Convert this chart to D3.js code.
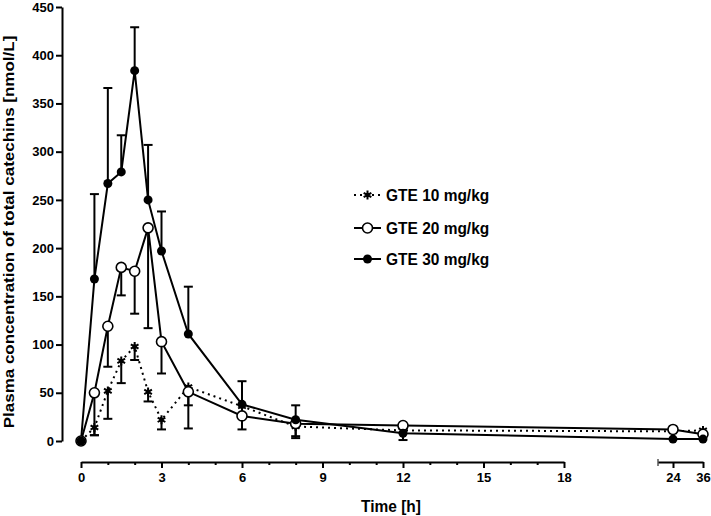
<!DOCTYPE html>
<html>
<head>
<meta charset="utf-8">
<script src="https://d3js.org/d3.v7.min.js"></script>
<style>
  body { margin: 0; background: #fff; }
  text { font-family: "Liberation Sans", Arial, sans-serif; font-weight: bold; fill: #000; }
</style>
</head>
<body>
<div id="chart"></div>
<script>
  // time points (h)
  const times = [0, 0.5, 1, 1.5, 2, 2.5, 3, 4, 6, 8, 12, 24, 36];

  // means (nmol/L)
  const gte10 = [0, 14, 52, 83, 98, 51, 22, 56, 36, 15, 11, 10, 11];
  const gte20 = [0, 50, 119, 180, 176, 221, 103, 51, 26, 18, 16, 12, 7];
  const gte30 = [0, 168, 267, 279, 384, 250, 197, 111, 38, 22, 8, 2, 2];

  // error bar lengths (10 and 20 drawn downward, 30 upward)
  const err10 = [0, 8, 29, 23, 14, 10, 10, 19, 8, 10, 10, 0, 0];
  const err20 = [0, 44, 42, 29, 44, 104, 33, 38, 14, 15, 3, 0, 0];
  const err30 = [0, 88, 99, 38, 45, 57, 41, 49, 24, 15, 5, 0, 0];

  const yTicks = [0, 50, 100, 150, 200, 250, 300, 350, 400, 450];
  const xTicksA = [0, 3, 6, 9, 12, 15, 18];
  const xTicksB = [24, 36];
  const legendLabels = ["GTE 10 mg/kg", "GTE 20 mg/kg", "GTE 30 mg/kg"];

  const W = 711, H = 516;
  const svg = d3.select("#chart").append("svg")
    .attr("width", W).attr("height", H);

  const y = d3.scaleLinear().domain([0, 450]).range([441, 7]);
  const xA = d3.scaleLinear().domain([0, 18]).range([81, 564]);
  const xB = d3.scaleLinear().domain([18, 36]).range([658, 703]);
  const x = t => t <= 18 ? xA(t) : xB(t);

  // y axis
  const yAxis = svg.append("g")
    .attr("transform", "translate(62,0)")
    .call(d3.axisLeft(y).tickValues(yTicks).tickSize(6).tickSizeOuter(0).tickPadding(2));
  yAxis.selectAll("text").style("font-size", "13px");

  // x axis, first segment
  const xAxisA = svg.append("g")
    .attr("transform", "translate(0,462)")
    .call(d3.axisBottom(xA).tickValues(xTicksA).tickSize(6).tickSizeOuter(0).tickPadding(5));
  xAxisA.selectAll("text").style("font-size", "13px");
  svg.append("g")
    .attr("transform", "translate(0,462)")
    .call(d3.axisBottom(xA).tickValues(d3.range(0, 19).filter(d => d % 3 !== 0))
      .tickSize(3).tickSizeOuter(0).tickFormat(""))
    .select(".domain").remove();

  // x axis, second segment
  const xAxisB = svg.append("g")
    .attr("transform", "translate(0,462)")
    .call(d3.axisBottom(xB).tickValues(xTicksB).tickSize(6).tickSizeOuter(0).tickPadding(5));
  xAxisB.selectAll("text").style("font-size", "13px");
  xAxisB.append("line")
    .attr("x1", xB(18)).attr("x2", xB(18)).attr("y1", -3).attr("y2", 4)
    .attr("stroke", "#000");

  svg.selectAll(".domain, .tick line").attr("stroke", "#000").attr("stroke-width", 2);

  // axis titles
  svg.append("text")
    .attr("transform", "translate(391,512) scale(1,1.12)")
    .attr("text-anchor", "middle")
    .style("font-size", "15.5px")
    .text("Time [h]");
  svg.append("text")
    .attr("transform", "translate(14,232) rotate(-90) scale(1,0.9)")
    .attr("text-anchor", "middle")
    .style("font-size", "17px")
    .text("Plasma concentration of total catechins [nmol/L]");

  const series = [
    { vals: gte10, err: err10, dir: -1, dash: "2,4", marker: "star" },
    { vals: gte20, err: err20, dir: -1, dash: null, marker: "open" },
    { vals: gte30, err: err30, dir: 1, dash: null, marker: "filled" }
  ];

  const line = d3.line().x(d => x(d.t)).y(d => y(d.v));
  const plot = svg.append("g");

  function drawMarker(g, kind) {
    if (kind === "open") {
      g.append("circle").attr("r", 5).attr("fill", "#fff")
        .attr("stroke", "#000").attr("stroke-width", 1.6);
    } else if (kind === "filled") {
      g.append("circle").attr("r", 4.5).attr("fill", "#000");
    } else {
      g.append("path").attr("d", d3.symbol(d3.symbolAsterisk, 55)())
        .attr("fill", "none").attr("stroke", "#000").attr("stroke-width", 2);
      g.append("circle").attr("r", 2.2).attr("fill", "#000");
    }
  }

  series.forEach(s => {
    const pts = times.map((t, i) => ({ t: t, v: s.vals[i], e: s.err[i] }));
    // error bars
    pts.filter(p => p.e > 0).forEach(p => {
      const x0 = x(p.t), yEnd = y(p.v + s.dir * p.e);
      plot.append("line").attr("x1", x0).attr("x2", x0)
        .attr("y1", y(p.v)).attr("y2", yEnd)
        .attr("stroke", "#000").attr("stroke-width", 2);
      plot.append("line").attr("x1", x0 - 4.5).attr("x2", x0 + 4.5)
        .attr("y1", yEnd).attr("y2", yEnd)
        .attr("stroke", "#000").attr("stroke-width", 2);
    });
    plot.append("path").datum(pts).attr("d", line)
      .attr("fill", "none").attr("stroke", "#000").attr("stroke-width", 2)
      .attr("stroke-dasharray", s.dash);
  });
  series.forEach(s => {
    times.forEach((t, i) => {
      const g = plot.append("g").attr("transform", `translate(${x(t)},${y(s.vals[i])})`);
      drawMarker(g, s.marker);
    });
  });

  // legend
  const legendY = [195, 228, 259];
  series.forEach((s, i) => {
    const g = svg.append("g").attr("transform", `translate(354,${legendY[i]})`);
    g.append("line").attr("x1", 0).attr("x2", 27).attr("y1", 0).attr("y2", 0)
      .attr("stroke", "#000").attr("stroke-width", 2).attr("stroke-dasharray", s.dash);
    drawMarker(g.append("g").attr("transform", "translate(13.5,0)"), s.marker);
    g.append("text").attr("transform", "translate(32,6) scale(1,1.12)")
      .style("font-size", "15.5px").text(legendLabels[i]);
  });
</script>
</body>
</html>
